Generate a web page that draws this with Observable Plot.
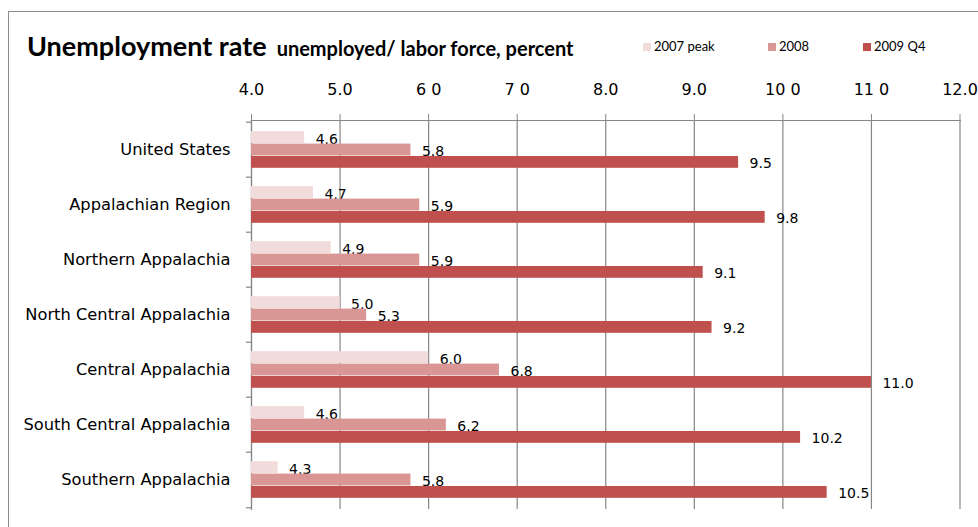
<!DOCTYPE html>
<html>
<head>
<meta charset="utf-8">
<script src="https://cdn.jsdelivr.net/npm/d3@7"></script>
<script src="https://cdn.jsdelivr.net/npm/@observablehq/plot@0.6"></script>
<style>
  body { margin: 0; background: #fff; }
  #wrap { position: relative; width: 978px; height: 527px; overflow: hidden; font-family: Lato, sans-serif; color: #000; }
  #border { position: absolute; left: 8px; top: 11px; width: 980px; height: 530px; border-left: 1.5px solid #8c8c8c; border-top: 1.5px solid #8c8c8c; }
  #title { position: absolute; left: 27px; top: 33px; font-weight: 700; font-size: 27px; line-height: 25px; white-space: nowrap; }
  #title .sub { font-size: 20px; margin-left: 10px; }
  .leg { position: absolute; top: 39px; font-size: 13px; line-height: 14px; white-space: nowrap; }
  .leg i { display: inline-block; width: 8px; height: 8px; margin-right: 3px; vertical-align: 0px; }
  #chart { position: absolute; left: 0; top: 70px; }
</style>
</head>
<body>
<div id="wrap">
  <div id="border"></div>
  <div id="title">Unemployment rate<span class="sub">unemployed/ labor force, percent</span></div>
  <div id="legend"></div>
  <div id="chart"></div>
</div>
<script>
const categories = [
  "United States",
  "Appalachian Region",
  "Northern Appalachia",
  "North Central Appalachia",
  "Central Appalachia",
  "South Central Appalachia",
  "Southern Appalachia"
];
const seriesNames = ["2007 peak", "2008", "2009 Q4"];
const peak2007 = [4.6, 4.7, 4.9, 5.0, 6.0, 4.6, 4.3];
const year2008 = [5.8, 5.9, 5.9, 5.3, 6.8, 6.2, 5.8];
const q4_2009 = [9.5, 9.8, 9.1, 9.2, 11.0, 10.2, 10.5];
const xDomain = [4, 12];
const xTicks = [4, 5, 6, 7, 8, 9, 10, 11, 12];
const xTickLabels = ["4.0", "5.0", "6 0", "7 0", "8.0", "9.0", "10 0", "11 0", "12.0"];
const colors = ["#F2DCDB", "#D99694", "#C0504D"];
const legendX = [643, 768, 863];

// legend (HTML, above the svg)
const legend = document.getElementById("legend");
seriesNames.forEach((s, i) => {
  const el = document.createElement("div");
  el.className = "leg";
  el.style.left = legendX[i] + "px";
  el.innerHTML = `<i style="background:${colors[i]}"></i>${s}`;
  legend.appendChild(el);
});

const values = [peak2007, year2008, q4_2009];
const W = 978, H = 457, mt = 50, mb = 18, ml = 251, mr = 18.5;
const step = (H - mt - mb) / categories.length;
const h = step * 0.223;
const pad = (step - 3 * h) / 2;
const pxPerUnit = (W - ml - mr) / (xDomain[1] - xDomain[0]);

const grey = "#868686";
const font = "'DejaVu Sans', sans-serif";
const marks = [
  Plot.gridX(xTicks, {stroke: grey, strokeOpacity: 1, strokeWidth: 1.2}),
  Plot.frame({anchor: "top", stroke: grey, strokeWidth: 1.2}),
  Plot.frame({anchor: "left", stroke: grey, strokeWidth: 1.2}),
  Plot.axisX(xTicks, {
    anchor: "top", tickSize: 7, stroke: grey, tickPadding: 19, fontSize: 16, label: null,
    tickFormat: d => xTickLabels[xTicks.indexOf(d)]
  }),
  Plot.axisY({anchor: "left", tickSize: 0, tickPadding: 21, fontSize: 16.3, label: null, dy: 0}),
  Plot.ruleY(categories, {y: d => d, x1: xDomain[0] - 5 / pxPerUnit, x2: xDomain[0], dy: -step / 2, stroke: grey, strokeWidth: 1.2}),
  Plot.ruleY(categories.slice(-1), {y: d => d, x1: xDomain[0] - 5 / pxPerUnit, x2: xDomain[0], dy: step / 2, stroke: grey, strokeWidth: 1.2})
];

seriesNames.forEach((s, i) => {
  const rows = categories.map((c, j) => ({category: c, series: s, value: values[i][j]}));
  const insetTop = pad + i * h;
  const insetBottom = step - pad - (i + 1) * h;
  const centerOffset = pad + (i + 0.5) * h - step / 2;
  marks.push(Plot.barX(rows, {x1: () => xDomain[0], x2: "value", y: "category", fill: colors[i], insetTop, insetBottom}));
  marks.push(Plot.text(rows, {
    x: "value", y: "category", text: d => d.value.toFixed(1),
    dx: 11, dy: centerOffset + 1.5, textAnchor: "start", lineAnchor: "middle", fontSize: 14, fill: "#000"
  }));
});

const chart = Plot.plot({
  width: W, height: H,
  marginTop: mt, marginBottom: mb, marginLeft: ml, marginRight: mr,
  style: {fontFamily: font, color: "#000", background: "transparent", overflow: "visible"},
  x: {domain: xDomain, axis: null},
  y: {domain: categories, padding: 0, axis: null},
  marks
});
document.getElementById("chart").appendChild(chart);
</script>
</body>
</html>
